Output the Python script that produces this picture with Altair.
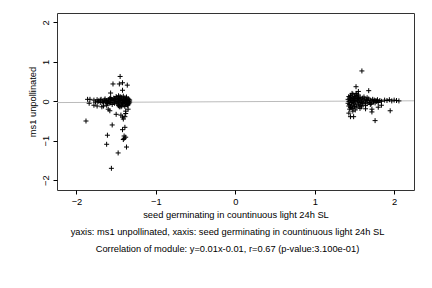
import altair as alt
import pandas as pd

# Left cluster (x around -1.9 .. -1.33)
left_x = [-1.78, -1.76, -1.74, -1.72, -1.70, -1.69, -1.67, -1.66, -1.65, -1.64,
          -1.63, -1.62, -1.61, -1.60, -1.59, -1.58, -1.57, -1.56, -1.55, -1.54,
          -1.53, -1.52, -1.51, -1.50, -1.49, -1.48, -1.48, -1.47, -1.46, -1.46,
          -1.45, -1.44, -1.44, -1.43, -1.43, -1.42, -1.42, -1.41, -1.41, -1.40,
          -1.40, -1.39, -1.39, -1.38, -1.38, -1.37, -1.37, -1.36, -1.36, -1.35,
          -1.35, -1.34, -1.34, -1.34, -1.33, -1.33, -1.53, -1.58, -1.62, -1.66,
          -1.68, -1.50, -1.45, -1.41, -1.37, -1.35, -1.47, -1.43, -1.39, -1.36,
          -1.52, -1.49, -1.55, -1.57, -1.60, -1.64, -1.70, -1.73, -1.47, -1.44,
          # outliers
          -1.88, -1.56, -1.475, -1.62, -1.61, -1.55, -1.45, -1.54, -1.46, -1.42,
          -1.36, -1.42, -1.57, -1.60, -1.58, -1.40, -1.38, -1.41, -1.39, -1.42,
          -1.37, -1.42, -1.38, -1.39, -1.50, -1.44, -1.35, -1.41, -1.46, -1.84,
          -1.78, -1.74, -1.86, -1.83, -1.40, -1.38]
left_y = [0.03, -0.02, 0.04, 0.01, -0.03, 0.05, 0.00, -0.04, 0.03, 0.06,
          -0.02, 0.02, -0.06, 0.04, 0.00, 0.07, -0.03, 0.05, -0.08, 0.02,
          0.08, -0.05, 0.03, -0.01, 0.09, -0.07, 0.04, 0.00, -0.04, 0.07,
          0.02, -0.09, 0.05, -0.02, 0.10, 0.01, -0.06, 0.06, -0.03, 0.03,
          -0.10, 0.00, 0.08, -0.05, 0.04, -0.01, 0.09, -0.08, 0.02, -0.03,
          0.06, 0.00, -0.06, 0.05, -0.02, 0.03, -0.02, -0.05, -0.10, -0.12,
          -0.14, 0.12, 0.12, 0.13, 0.11, -0.09, -0.11, -0.12, -0.13, -0.10,
          0.06, -0.04, 0.03, 0.09, -0.02, 0.01, 0.03, -0.01, 0.14, -0.14,
          # outliers
          -0.50, -1.70, -1.31, -1.09, -0.86, -0.60, 0.63, 0.44, 0.44, 0.47,
          0.41, 0.28, 0.21, -0.20, -0.24, -0.94, -0.91, -0.97, -0.66, -0.72,
          -1.16, -0.40, -0.31, -0.39, -0.33, -0.35, -0.20, -0.45, -0.14, -0.05,
          -0.10, -0.12, 0.05, 0.05, -0.88, -0.25]

# Right cluster (x around 1.42 .. 2.07)
right_x = [1.42, 1.42, 1.43, 1.43, 1.43, 1.44, 1.44, 1.45, 1.45, 1.45,
           1.46, 1.46, 1.47, 1.47, 1.48, 1.48, 1.48, 1.49, 1.49, 1.50,
           1.50, 1.50, 1.51, 1.51, 1.52, 1.52, 1.53, 1.53, 1.54, 1.54,
           1.55, 1.55, 1.56, 1.56, 1.57, 1.57, 1.58, 1.58, 1.59, 1.60,
           1.60, 1.61, 1.62, 1.63, 1.64, 1.65, 1.66, 1.67, 1.68, 1.69,
           1.70, 1.71, 1.72, 1.73, 1.74, 1.75, 1.76, 1.77, 1.78, 1.79,
           1.80, 1.82, 1.84, 1.44, 1.47, 1.51, 1.55, 1.59, 1.46, 1.53,
           1.57, 1.62, 1.66, 1.70, 1.64,
           # tail
           1.88, 1.91, 1.94, 1.97, 2.00, 2.03, 2.06,
           # outliers
           1.594, 1.52, 1.68, 1.55, 1.52, 1.95, 1.76, 1.45, 1.49, 1.48,
           1.72, 1.72, 1.64, 1.80, 1.84, 1.43]
right_y = [0.05, -0.05, 0.12, -0.12, 0.00, 0.08, -0.08, 0.15, -0.15, 0.02,
           -0.03, 0.10, -0.10, 0.05, 0.18, -0.18, 0.00, 0.07, -0.06, 0.12,
           -0.13, 0.02, -0.02, 0.09, -0.09, 0.15, 0.04, -0.15, 0.00, 0.11,
           -0.07, 0.07, -0.12, 0.03, 0.10, -0.03, -0.10, 0.06, 0.00, 0.08,
           -0.06, 0.03, -0.04, 0.06, -0.02, 0.04, -0.05, 0.02, 0.06, -0.03,
           0.03, -0.06, 0.01, 0.05, -0.02, 0.03, -0.04, 0.02, 0.00, 0.04,
           -0.03, 0.02, 0.00, -0.20, 0.20, -0.22, 0.16, -0.14, -0.16, 0.19,
           -0.18, 0.11, 0.09, -0.08, -0.11,
           # tail
           0.03, 0.02, 0.04, 0.01, 0.03, 0.02, 0.01,
           # outliers
           0.77, 0.37, 0.27, 0.25, 0.20, -0.24, -0.49, -0.39, -0.39, -0.25,
           -0.20, -0.27, -0.19, -0.15, -0.10, -0.30]

# Regression line from caption: y = 0.01x - 0.01
line_x = [-2.245, 2.25]
line_y = [-0.032, 0.0125]

x_ticks = [-2, -1, 0, 1, 2]
y_ticks = [-2, -1, 0, 1, 2]

caption = ["yaxis: ms1 unpollinated, xaxis: seed germinating in countinuous light 24h SL",
           "Correlation of module: y=0.01x-0.01, r=0.67 (p-value:3.100e-01)"]

pts = pd.DataFrame({"x": left_x + right_x, "y": left_y + right_y})
lines = pd.DataFrame({"x": line_x, "y": line_y})

FONT = "Liberation Sans"
FS = 9.3
xscale = alt.Scale(domain=[-2.245, 2.25], nice=False, zero=False)
yscale = alt.Scale(domain=[-2.25, 2.24], nice=False, zero=False)

xaxis = alt.Axis(values=x_ticks, format="d", title="seed germinating in countinuous light 24h SL",
                 grid=False, domain=False, tickColor="black", tickSize=4,
                 labelFont=FONT, labelFontSize=FS, labelColor="black", labelPadding=3,
                 titleFont=FONT, titleFontSize=FS, titleFontWeight="normal",
                 titleColor="black", titlePadding=4)
yaxis = alt.Axis(values=y_ticks, format="d", title="ms1 unpollinated",
                 grid=False, domain=False, tickColor="black", tickSize=4,
                 labelAngle=270, labelAlign="center", labelBaseline="bottom",
                 labelFont=FONT, labelFontSize=FS, labelColor="black", labelPadding=3,
                 titleFont=FONT, titleFontSize=FS, titleFontWeight="normal",
                 titleColor="black", titlePadding=4)

reg = alt.Chart(lines).mark_line(color="#bbbbbb", strokeWidth=1, clip=True).encode(
    x=alt.X("x:Q", scale=xscale, axis=xaxis),
    y=alt.Y("y:Q", scale=yscale, axis=yaxis),
)

plus = "M-1,0L1,0M0,-1L0,1"
points = alt.Chart(pts).mark_point(shape=plus, filled=False, color="black",
                                   strokeWidth=1, size=25, opacity=1).encode(
    x=alt.X("x:Q", scale=xscale),
    y=alt.Y("y:Q", scale=yscale),
)

chart = alt.layer(reg, points).properties(
    width=357, height=177,
    background="white",
    autosize=alt.AutoSizeParams(type="none"),
    padding={"left": 57, "top": 13, "right": 18, "bottom": 98},
    title=alt.TitleParams(text=caption, orient="bottom", font=FONT, fontSize=FS,
                          fontWeight="normal", color="black", lineHeight=17,
                          offset=8, anchor="middle", dx=-8),
).configure_view(stroke="#333333", strokeWidth=1)

chart.save("out.html", embed_options={"renderer": "svg", "actions": False})
